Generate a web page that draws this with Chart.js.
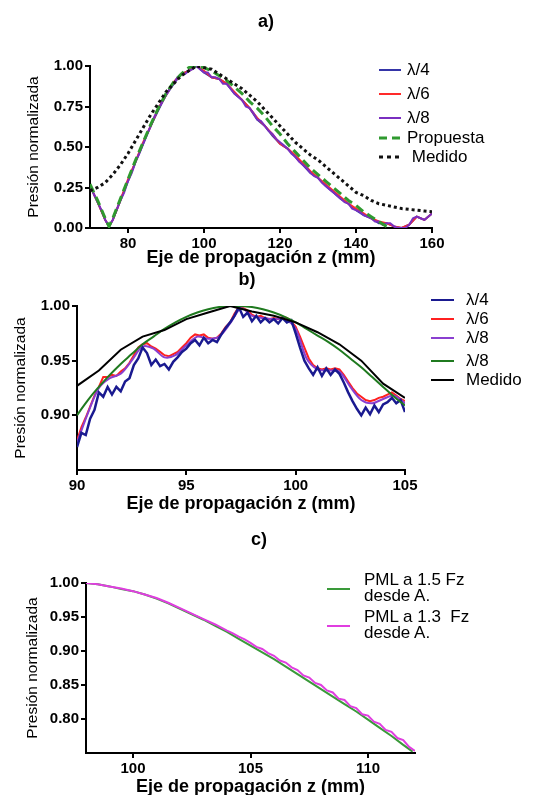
<!DOCTYPE html>
<html>
<head>
<meta charset="utf-8">
<script src="https://cdn.jsdelivr.net/npm/chart.js@4.4.0/dist/chart.umd.min.js"></script>
<style>
body{margin:0;background:#fff;width:544px;height:795px;position:relative;overflow:hidden;font-family:"Liberation Sans",Arial,sans-serif;}
canvas{position:absolute;left:0;}
.ttl{position:absolute;font-weight:bold;font-size:18px;transform:translateX(-50%);}
.leg{position:absolute;font-size:17px;color:#000;}
.leg svg{position:absolute;left:0;top:0;overflow:visible;}
.leg span{position:absolute;white-space:nowrap;line-height:17px;}
</style>
</head>
<body>
<canvas id="ca" width="544" height="270" style="top:0"></canvas>
<canvas id="cb" width="544" height="247" style="top:268px"></canvas>
<canvas id="cc" width="544" height="245" style="top:555px"></canvas>
<div class="ttl" style="left:266px;top:11px">a)</div>
<div class="ttl" style="left:247px;top:269px">b)</div>
<div class="ttl" style="left:259px;top:529px">c)</div>
<div id="legA"></div>
<div id="legB"></div>
<div id="legC"></div>
<script>
// ---- a) ----
var aX8 = [70,71,72,73,74,75,76,77,78,79,80,81,82,83,84,85,86,87,88,89,90,91,92,93,94,95,96,97,98,99,100,101,102,103,104,105,106,107,108,109,110,111,112,113,114,115,116,117,118,119,120,121,122,123,124,125,126,127,128,129,130,131,132,133,134,135,136,137,138,139,140,141,142,143,144,145,146,147,148,149,150,151,152,153,154,155,156,157,158,159,160];
var aL8 = [0.26,0.21,0.16,0.11,0.05,0.01,0.05,0.11,0.17,0.22,0.29,0.34,0.41,0.46,0.52,0.58,0.63,0.69,0.73,0.78,0.82,0.86,0.89,0.93,0.95,0.95,0.97,0.98,1.00,0.98,0.96,0.96,0.93,0.93,0.92,0.89,0.89,0.86,0.83,0.81,0.79,0.75,0.74,0.71,0.67,0.66,0.63,0.60,0.58,0.55,0.53,0.51,0.49,0.46,0.44,0.41,0.39,0.37,0.34,0.32,0.31,0.28,0.26,0.24,0.22,0.20,0.18,0.16,0.15,0.12,0.11,0.10,0.08,0.07,0.06,0.04,0.04,0.02,0.03,0.03,0.01,0.00,0.00,0.00,0.02,0.06,0.07,0.06,0.05,0.07,0.09];
var aX46 = [70,72,74,75,76,78,80,82,84,86,88,90,92,94,96,98,100,102,104,106,108,110,112,114,116,118,120,122,124,126,128,130,132,134,136,138,140,142,144,146,148,150,152,154,156,158,160];
var aL4 = [0.26,0.16,0.05,0.01,0.05,0.17,0.29,0.41,0.52,0.63,0.73,0.82,0.89,0.95,0.97,1.00,0.96,0.93,0.92,0.89,0.83,0.79,0.74,0.67,0.63,0.57,0.52,0.49,0.44,0.39,0.34,0.31,0.26,0.22,0.18,0.15,0.11,0.08,0.06,0.03,0.03,0.01,0.00,0.02,0.07,0.05,0.09];
var aL6 = [0.26,0.16,0.05,0.01,0.05,0.17,0.30,0.41,0.53,0.63,0.74,0.82,0.90,0.95,0.97,1.00,0.97,0.93,0.92,0.89,0.84,0.79,0.74,0.68,0.63,0.58,0.52,0.49,0.45,0.40,0.35,0.31,0.27,0.23,0.19,0.15,0.12,0.09,0.06,0.04,0.03,0.01,0.00,0.02,0.07,0.05,0.09];
var aXP = [70,72,74,75,76,78,80,82,84,86,88,90,92,94,96,98,100,102,104,106,108,110,112,114,116,118,120,122,124,126,128,130,132,134,136,138,140,142,144,146,148,149];
var aProp = [0.27,0.17,0.06,0.01,0.06,0.18,0.30,0.42,0.53,0.64,0.74,0.83,0.90,0.95,0.99,1.00,0.99,0.97,0.94,0.91,0.87,0.83,0.78,0.74,0.69,0.63,0.58,0.52,0.47,0.42,0.37,0.33,0.29,0.25,0.21,0.17,0.14,0.10,0.07,0.04,0.01,0.00];
var aXM = [70,72,74,76,78,80,82,84,86,88,90,92,94,96,98,100,102,104,106,108,110,112,114,116,118,120,122,124,126,128,130,132,134,136,138,140,142,144,146,148,150,152,154,156,158,160];
var aMed = [0.23,0.25,0.28,0.33,0.39,0.46,0.54,0.62,0.70,0.77,0.84,0.89,0.94,0.97,1.00,0.99,0.98,0.95,0.92,0.89,0.86,0.82,0.78,0.73,0.68,0.63,0.58,0.53,0.49,0.45,0.42,0.38,0.34,0.30,0.26,0.22,0.20,0.17,0.15,0.14,0.13,0.12,0.115,0.11,0.105,0.10];
var aXTicks = [80,100,120,140,160];
var aYTicks = [0,0.25,0.5,0.75,1];

// ---- b) ----
var bX = [90.0,90.2,90.4,90.6,90.8,91.0,91.2,91.4,91.6,91.8,92.0,92.2,92.4,92.6,92.8,93.0,93.2,93.4,93.6,93.8,94.0,94.2,94.4,94.6,94.8,95.0,95.2,95.4,95.6,95.8,96.0,96.2,96.4,96.6,96.8,97.0,97.2,97.4,97.6,97.8,98.0,98.2,98.4,98.6,98.8,99.0,99.2,99.4,99.6,99.8,100.0,100.2,100.4,100.6,100.8,101.0,101.2,101.4,101.6,101.8,102.0,102.2,102.4,102.6,102.8,103.0,103.2,103.4,103.6,103.8,104.0,104.2,104.4,104.6,104.8,105.0];
var bL4 = [0.871,0.884,0.882,0.897,0.905,0.921,0.917,0.926,0.919,0.926,0.922,0.931,0.934,0.946,0.952,0.962,0.957,0.946,0.951,0.945,0.947,0.942,0.949,0.953,0.958,0.961,0.966,0.969,0.964,0.971,0.966,0.969,0.967,0.974,0.980,0.985,0.991,0.999,0.990,0.994,0.986,0.991,0.985,0.989,0.985,0.988,0.984,0.989,0.985,0.987,0.975,0.962,0.950,0.943,0.937,0.944,0.936,0.943,0.937,0.942,0.938,0.930,0.921,0.913,0.906,0.900,0.907,0.901,0.909,0.903,0.910,0.912,0.916,0.911,0.914,0.903];
var bL6 = [0.877,0.889,0.898,0.908,0.918,0.926,0.935,0.935,0.937,0.936,0.940,0.943,0.948,0.955,0.962,0.965,0.966,0.963,0.961,0.958,0.955,0.954,0.956,0.958,0.962,0.966,0.971,0.974,0.973,0.974,0.971,0.970,0.971,0.975,0.981,0.985,0.993,0.999,0.998,0.996,0.992,0.990,0.991,0.989,0.988,0.989,0.988,0.990,0.989,0.986,0.981,0.972,0.962,0.952,0.946,0.943,0.942,0.943,0.942,0.943,0.942,0.937,0.931,0.925,0.920,0.917,0.914,0.913,0.914,0.916,0.917,0.919,0.921,0.918,0.915,0.913];
var bXh = [90.0,90.5,91.0,91.5,92.0,92.5,93.0,93.5,94.0,94.5,95.0,95.5,96.0,96.5,97.0,97.5,98.0,98.5,99.0,99.5,100.0,100.5,101.0,101.5,102.0,102.5,103.0,103.5,104.0,104.5,105.0];
var bL8 = [0.875,0.902,0.925,0.934,0.938,0.950,0.963,0.961,0.953,0.955,0.964,0.972,0.970,0.972,0.984,0.998,0.991,0.989,0.988,0.988,0.979,0.952,0.942,0.941,0.940,0.926,0.914,0.911,0.915,0.918,0.911];
var bGreen = [0.900,0.914,0.926,0.937,0.947,0.956,0.965,0.972,0.979,0.985,0.990,0.994,0.997,0.999,1.000,1.000,0.999,0.997,0.994,0.990,0.985,0.979,0.973,0.967,0.960,0.952,0.944,0.935,0.926,0.917,0.909];
var bXM = [90,91,92,93,94,95,96,97,98,99,100,101,102,103,104,105];
var bMed = [0.927,0.941,0.960,0.972,0.978,0.988,0.994,1.000,0.995,0.991,0.985,0.976,0.965,0.950,0.929,0.916];
var bXTicks = [90,95,100,105];
var bYTicks = [0.90,0.95,1.00];

// ---- c) ----
var cXG = [98.0,98.5,99.0,99.5,100.0,100.5,101.0,101.5,102.0,102.5,103.0,103.5,104.0,104.5,105.0,105.5,106.0,106.5,107.0,107.5,108.0,108.5,109.0,109.5,110.0,110.5,111.0,111.5,111.9];
var c15 = [1.000,0.998,0.995,0.991,0.988,0.983,0.977,0.970,0.962,0.954,0.946,0.937,0.928,0.918,0.908,0.898,0.888,0.877,0.866,0.855,0.844,0.833,0.822,0.811,0.799,0.787,0.775,0.762,0.752];
var cXM = [98.0,98.5,99.0,99.5,100.0,100.5,101.0,101.5,102.0,102.5,103.0,103.5,104.0,104.25,104.5,104.75,105.0,105.25,105.5,105.75,106.0,106.25,106.5,106.75,107.0,107.25,107.5,107.75,108.0,108.25,108.5,108.75,109.0,109.25,109.5,109.75,110.0,110.25,110.5,110.75,111.0,111.25,111.5,111.75,112.0];
var c13 = [1.000,0.998,0.995,0.992,0.988,0.983,0.978,0.971,0.963,0.955,0.947,0.939,0.930,0.926,0.921,0.917,0.912,0.906,0.903,0.897,0.893,0.886,0.883,0.876,0.872,0.864,0.861,0.853,0.850,0.842,0.839,0.830,0.828,0.819,0.816,0.807,0.805,0.796,0.793,0.784,0.781,0.772,0.769,0.759,0.753];
var cXTicks = [100,105,110];
var cYTicks = [0.80,0.85,0.90,0.95,1.00];

function pts(xs, ys) {
  return xs.map(function (x, i) { return { x: x, y: ys[i] }; });
}

var tickFont = { family: "'Liberation Sans', Arial, sans-serif", size: 15, weight: 'bold' };
var xTitleFont = { family: "'Liberation Sans', Arial, sans-serif", size: 18, weight: 'bold' };
var yTitleFont = { family: "'Liberation Sans', Arial, sans-serif", size: 15.5 };

function makeChart(id, datasets, o) {
  return new Chart(document.getElementById(id), {
    type: 'line',
    data: { datasets: datasets },
    options: {
      responsive: false,
      animation: false,
      layout: { padding: { top: o.top, right: o.right, left: 0, bottom: 0 } },
      plugins: { legend: { display: false }, tooltip: { enabled: false } },
      elements: { point: { radius: 0 }, line: { tension: 0 } },
      scales: {
        x: {
          type: 'linear', min: o.xmin, max: o.xmax,
          afterBuildTicks: function (s) { s.ticks = o.xticks.map(function (v) { return { value: v }; }); },
          afterFit: function (s) { s.height = o.xh; },
          grid: { drawOnChartArea: false, color: '#000', lineWidth: 2, tickLength: 5 },
          border: { color: '#000', width: 2 },
          ticks: { color: '#000', font: tickFont, padding: 2, maxRotation: 0, autoSkip: false,
                   callback: function (v) { return v; } },
          title: { display: true, text: 'Eje de propagación z (mm)', color: '#000', font: xTitleFont,
                   padding: { top: 0, bottom: o.xtp } }
        },
        y: {
          type: 'linear', min: o.ymin, max: o.ymax,
          afterBuildTicks: function (s) { s.ticks = o.yticks.map(function (v) { return { value: v }; }); },
          afterFit: function (s) { s.width = o.yw; },
          grid: { drawOnChartArea: false, color: '#000', lineWidth: 2, tickLength: 5 },
          border: { color: '#000', width: 2 },
          ticks: { color: '#000', font: tickFont, padding: 2, autoSkip: false,
                   callback: function (v) { return v.toFixed(2); } },
          title: { display: true, text: 'Presión normalizada', color: '#000', font: yTitleFont,
                   padding: { top: o.ytp, bottom: 0 } }
        }
      }
    }
  });
}

makeChart('ca', [
  { data: pts(aXM, aMed), borderColor: '#111', borderWidth: 3, borderDash: [3, 3], order: 0 },
  { data: pts(aXP, aProp), borderColor: '#2f9a2f', borderWidth: 3, borderDash: [9, 5], order: 1 },
  { data: pts(aX8, aL8), borderColor: '#7a2fc0', borderWidth: 2, order: 2 },
  { data: pts(aX46, aL6), borderColor: '#ff2a2a', borderWidth: 2, order: 3 },
  { data: pts(aX46, aL4), borderColor: '#3535a8', borderWidth: 2, order: 4 }
], { top: 66, right: 112, xh: 42, yw: 90, xtp: 1, ytp: 24, xmin: 70, xmax: 160, ymin: 0, ymax: 1,
     xticks: aXTicks, yticks: aYTicks });

makeChart('cb', [
  { data: pts(bXM, bMed), borderColor: '#000', borderWidth: 2, order: 0 },
  { data: pts(bXh, bGreen), borderColor: '#1f7a1f', borderWidth: 2, tension: 0.4, order: 1 },
  { data: pts(bXh, bL8), borderColor: '#8a3fd0', borderWidth: 2, tension: 0.3, order: 3 },
  { data: pts(bX, bL6), borderColor: '#ff2020', borderWidth: 2, order: 4 },
  { data: pts(bX, bL4), borderColor: '#1a1a90', borderWidth: 2.5, order: 2 }
], { top: 38, right: 139, xh: 45, yw: 77, xtp: 0, ytp: 11, xmin: 90, xmax: 105, ymin: 0.85, ymax: 1.0,
     xticks: bXTicks, yticks: bYTicks });

makeChart('cc', [
  { data: pts(cXG, c15), borderColor: '#3a9a3a', borderWidth: 2, order: 1 },
  { data: pts(cXM, c13), borderColor: '#e03ee0', borderWidth: 2, order: 0 }
], { top: 28, right: 129, xh: 47, yw: 86, xtp: 2, ytp: 23, xmin: 98, xmax: 112, ymin: 0.75, ymax: 1.0,
     xticks: cXTicks, yticks: cYTicks });

// legends
function legend(id, items, x0, len, tx, lh) {
  var host = document.getElementById(id);
  items.forEach(function (it) {
    var d = document.createElement('div');
    d.className = 'leg';
    d.style.left = x0 + 'px';
    d.style.top = it.y + 'px';
    var dash = it.dash ? ' stroke-dasharray="' + it.dash + '"' : '';
    d.innerHTML = '<svg width="' + len + '" height="1"><line x1="0" y1="0" x2="' + len + '" y2="0" stroke="' +
      it.color + '" stroke-width="' + it.w + '"' + dash + '/></svg>' +
      '<span style="left:' + (tx - x0) + 'px;top:' + (it.ty || -9) + 'px;line-height:' + (lh || 17) + 'px">' +
      it.label + '</span>';
    host.appendChild(d);
  });
}

legend('legA', [
  { label: 'λ/4', color: '#3535a8', w: 2, y: 70 },
  { label: 'λ/6', color: '#ff2a2a', w: 2, y: 94 },
  { label: 'λ/8', color: '#7a2fc0', w: 2, y: 118 },
  { label: 'Propuesta', color: '#2f9a2f', w: 3, dash: '8,5', y: 138 },
  { label: '&nbsp;Medido', color: '#111', w: 3, dash: '4,4', y: 157 }
], 379, 22, 407);

legend('legB', [
  { label: 'λ/4', color: '#1a1a90', w: 2, y: 300 },
  { label: 'λ/6', color: '#ff2020', w: 2, y: 319 },
  { label: 'λ/8', color: '#8a3fd0', w: 2, y: 338 },
  { label: 'λ/8', color: '#1f7a1f', w: 2, y: 361 },
  { label: 'Medido', color: '#000', w: 2, y: 380 }
], 431, 23, 466);

legend('legC', [
  { label: 'PML a 1.5 Fz<br>desde A.', color: '#3a9a3a', w: 2, y: 589, ty: -17 },
  { label: 'PML a 1.3&nbsp; Fz<br>desde A.', color: '#e03ee0', w: 2, y: 626, ty: -17 }
], 327, 23, 364, 16);
</script>
</body>
</html>
